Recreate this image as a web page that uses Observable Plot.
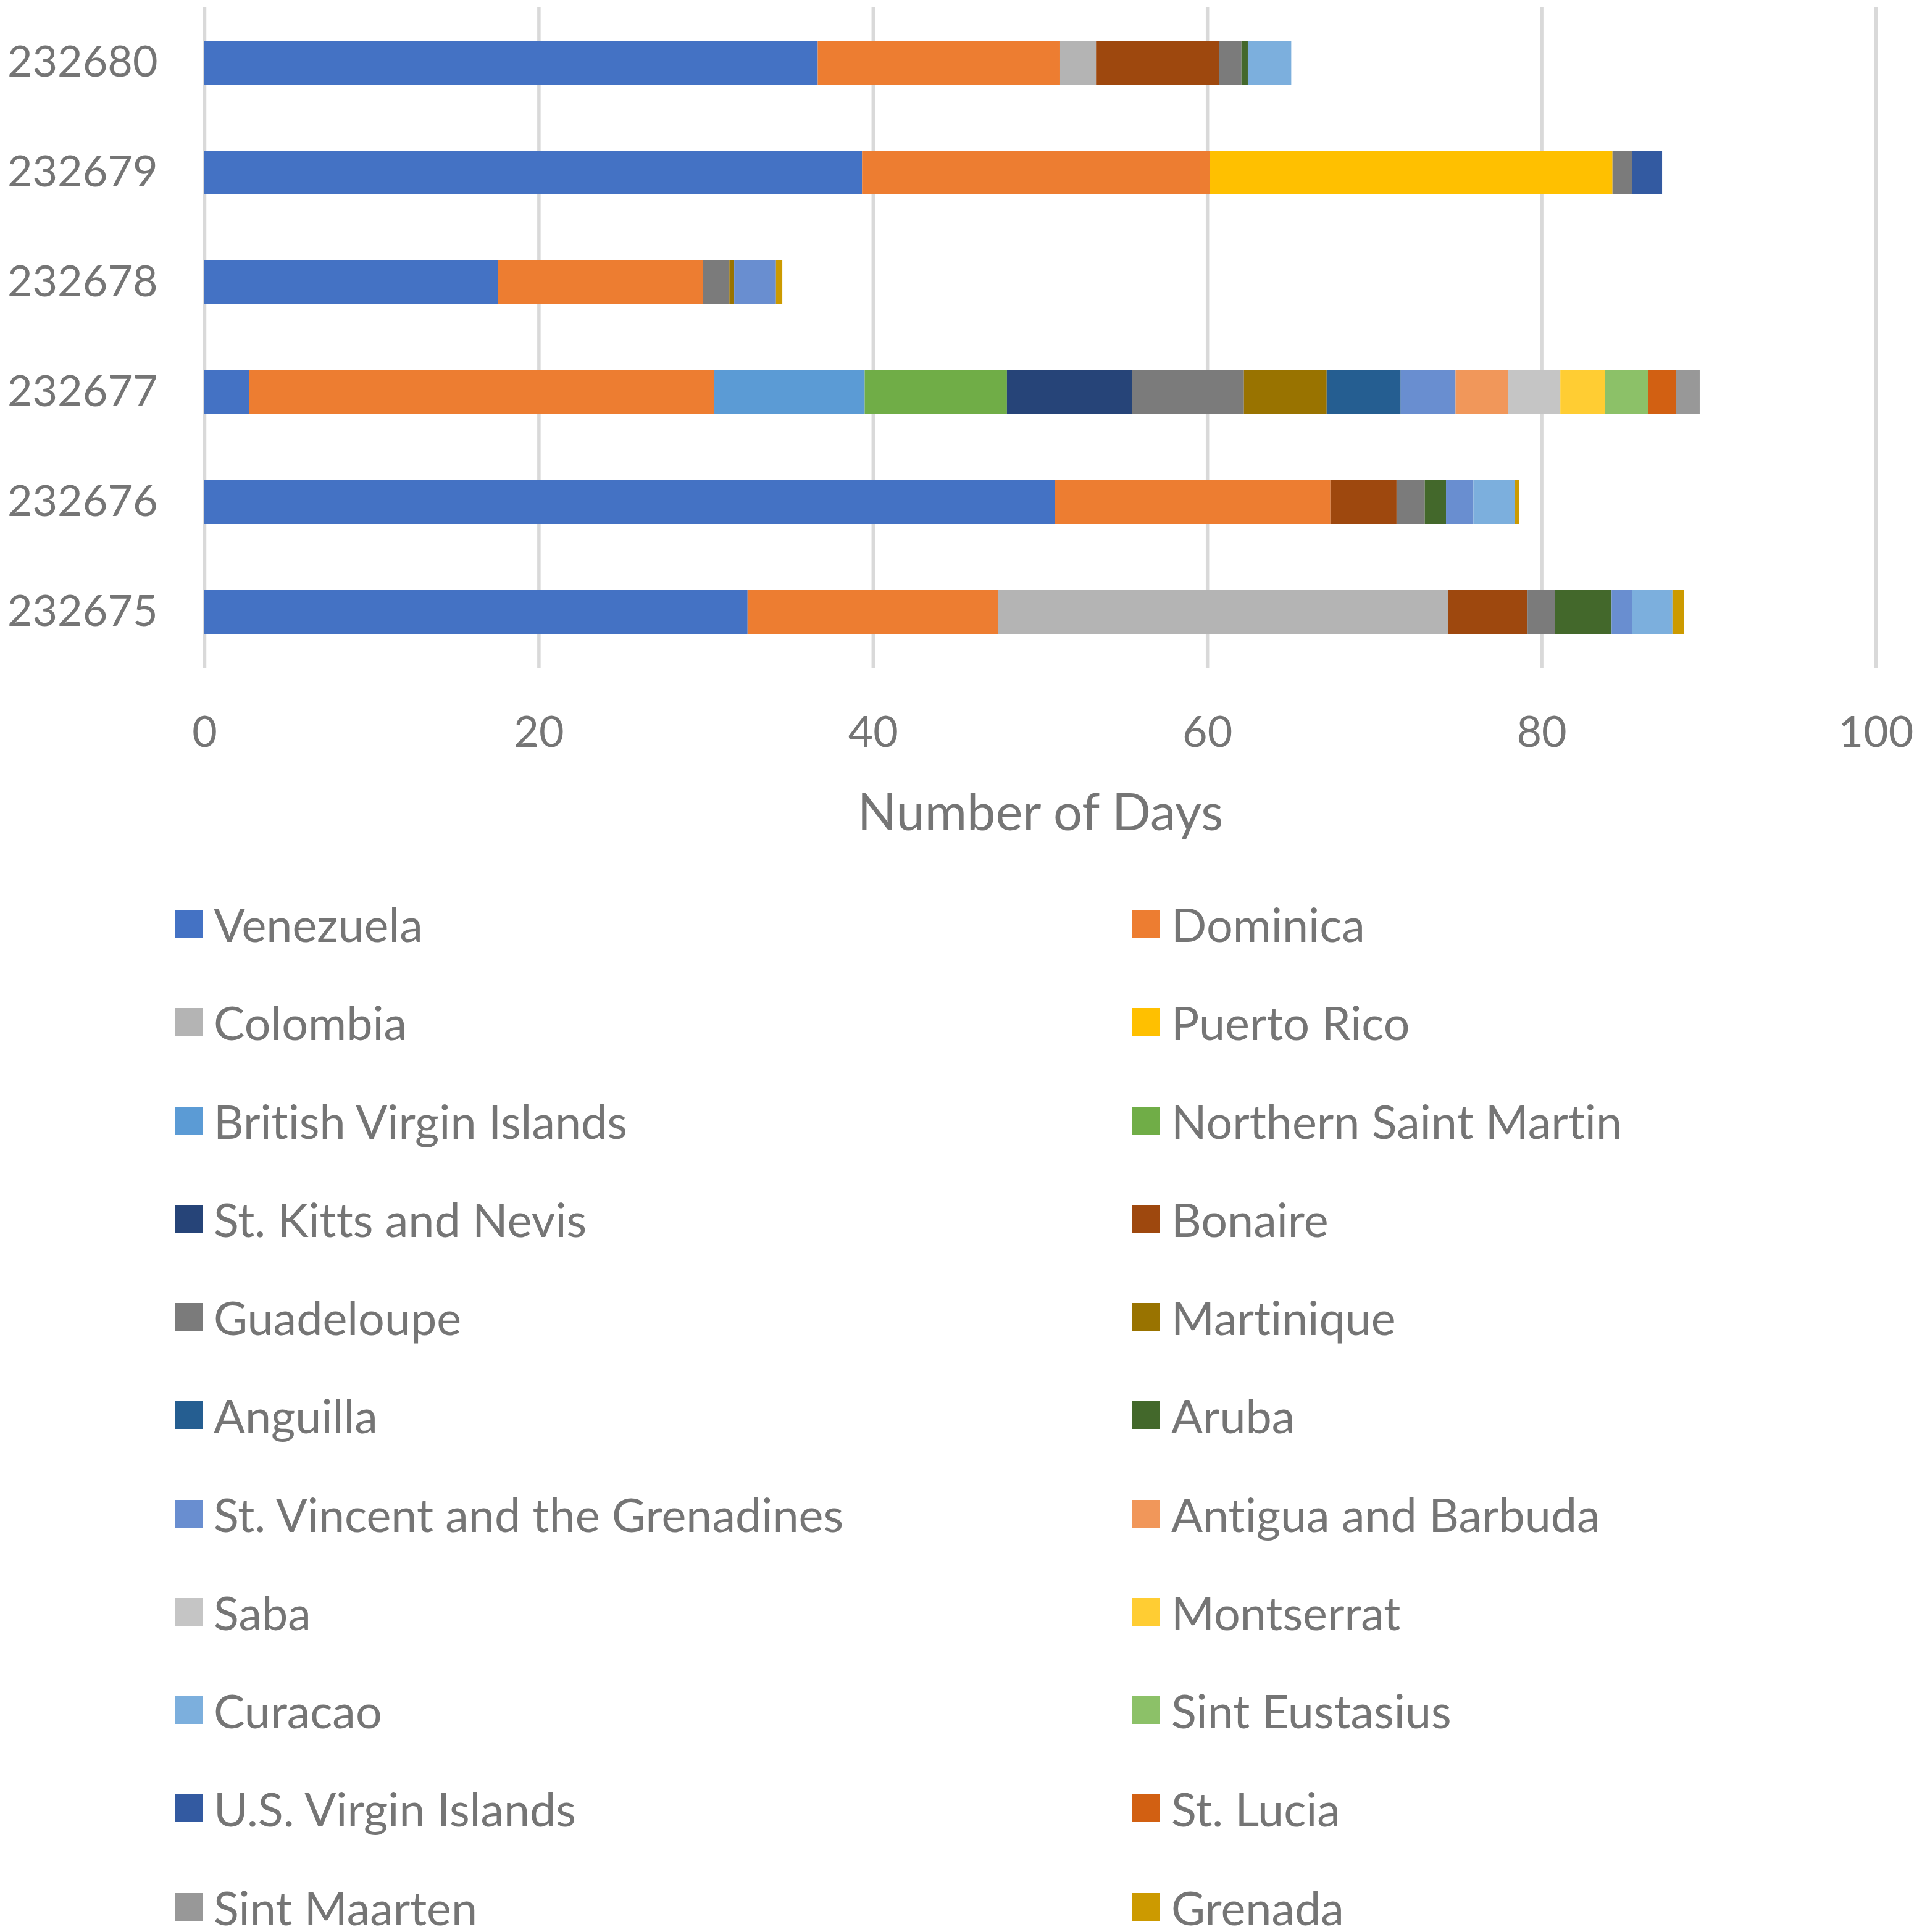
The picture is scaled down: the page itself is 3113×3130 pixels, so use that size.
<!DOCTYPE html>
<html>
<head>
<meta charset="utf-8">
<script src="https://cdn.jsdelivr.net/npm/d3@7"></script>
<script src="https://cdn.jsdelivr.net/npm/@observablehq/plot@0.6"></script>
<style>
  html, body { margin: 0; padding: 0; background: #ffffff; }
  body { width: 3113px; height: 3130px; overflow: hidden; font-family: Lato, "Open Sans", sans-serif; font-variant-ligatures: none; font-feature-settings: "liga" 0, "dlig" 0; }
  #chart svg { display: block; font-variant-ligatures: none; }
  #legend {
    display: grid;
    grid-template-columns: 1551px 1200px;
    grid-auto-rows: 159.25px;
    padding-left: 283px;
    padding-top: 17px;
    color: #757575;
    font-size: 75.5px;
  }
  .item { display: flex; align-items: center; white-space: nowrap; }
  .sw { width: 45px; height: 45px; margin-right: 18px; flex: none; }
</style>
</head>
<body>
<div id="chart"></div>
<div id="legend"></div>
<script>
// Categories (top to bottom)
const ids = ["232680", "232679", "232678", "232677", "232676", "232675"];

// Series (legend order = stacking order)
const countries = [
  "Venezuela", "Dominica", "Colombia", "Puerto Rico", "British Virgin Islands",
  "Northern Saint Martin", "St. Kitts and Nevis", "Bonaire", "Guadeloupe", "Martinique",
  "Anguilla", "Aruba", "St. Vincent and the Grenadines", "Antigua and Barbuda", "Saba",
  "Montserrat", "Curacao", "Sint Eustasius", "U.S. Virgin Islands", "St. Lucia",
  "Sint Maarten", "Grenada"
];

const colors = [
  "#4472C4", "#ED7D31", "#B4B4B4", "#FFC000", "#5B9BD5",
  "#70AD47", "#264478", "#9E480E", "#7B7B7B", "#997300",
  "#255E91", "#43682B", "#698ED0", "#F1975A", "#C5C5C5",
  "#FFCD33", "#7CAFDD", "#8CC168", "#335AA1", "#D26012",
  "#989898", "#CC9A00"
];

// Number of days per country (same order as countries), one array per ID
const days232680 = [36.7, 14.5, 2.15, 0, 0, 0, 0, 7.35, 1.35, 0, 0, 0.38, 0, 0, 0, 0, 2.6, 0, 0, 0, 0, 0];
const days232679 = [39.35, 20.8, 0, 24.1, 0, 0, 0, 0, 1.17, 0, 0, 0, 0, 0, 0, 0, 0, 0, 1.8, 0, 0, 0];
const days232678 = [17.55, 12.27, 0, 0, 0, 0, 0, 0, 1.59, 0.29, 0, 0, 2.5, 0, 0, 0, 0, 0, 0, 0, 0, 0.38];
const days232677 = [2.66, 27.82, 0, 0, 9.03, 8.51, 7.49, 0, 6.69, 4.95, 4.43, 0, 3.28, 3.14, 3.13, 2.66, 0, 2.59, 0, 1.67, 1.42, 0];
const days232676 = [50.9, 16.47, 0, 0, 0, 0, 0, 3.96, 1.69, 0, 0, 1.27, 1.64, 0, 0, 0, 2.49, 0, 0, 0, 0, 0.25];
const days232675 = [32.5, 15.0, 26.9, 0, 0, 0, 0, 4.77, 1.64, 0, 0, 3.39, 1.21, 0, 0, 0, 2.43, 0, 0, 0, 0, 0.68];

const xTicks = [0, 20, 40, 60, 80, 100];

const byId = {
  "232680": days232680, "232679": days232679, "232678": days232678,
  "232677": days232677, "232676": days232676, "232675": days232675
};

const table = [];
for (const id of ids) {
  byId[id].forEach((v, i) => {
    if (v > 0) table.push({id, country: countries[i], days: v});
  });
}

const textColor = "#757575";

const chart = Plot.plot({
  width: 3113,
  height: 1400,
  marginLeft: 331,
  marginRight: 75,
  marginTop: 12,
  marginBottom: 318,
  style: {fontFamily: "Lato, 'Open Sans', sans-serif", color: textColor, background: "#ffffff"},
  x: {domain: [0, 100]},
  y: {domain: ids, paddingInner: 0.6, paddingOuter: 0.3},
  color: {domain: countries, range: colors},
  marks: [
    Plot.gridX(xTicks, {stroke: "#d9d9d9", strokeOpacity: 1, strokeWidth: 5.5}),
    Plot.barX(table, Plot.stackX({y: "id", x: "days", fill: "country"})),
    Plot.axisX({ticks: xTicks, tickSize: 0, tickPadding: 78, fontSize: 70, label: null, fill: textColor}),
    Plot.axisY({tickSize: 0, tickPadding: 76, fontSize: 70, label: null, fill: textColor}),
    Plot.text(["Number of Days"], {text: d => d, frameAnchor: "bottom", dy: 262, fontSize: 83, fill: textColor})
  ]
});
document.getElementById("chart").appendChild(chart);

const legend = document.getElementById("legend");
countries.forEach((c, i) => {
  const item = document.createElement("div");
  item.className = "item";
  const sw = document.createElement("span");
  sw.className = "sw";
  sw.style.background = colors[i];
  const label = document.createElement("span");
  label.textContent = c;
  item.appendChild(sw);
  item.appendChild(label);
  legend.appendChild(item);
});
</script>
</body>
</html>
